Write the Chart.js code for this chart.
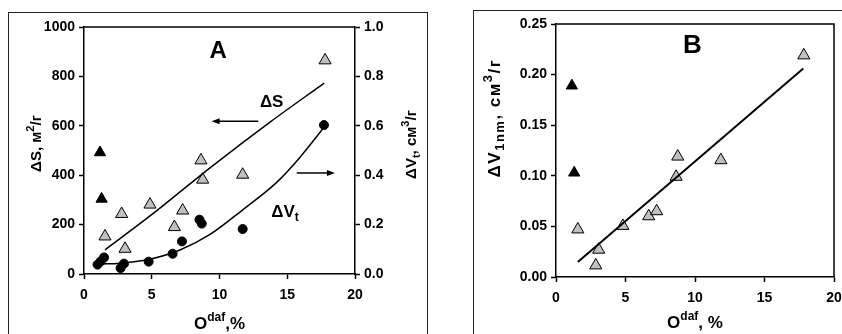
<!DOCTYPE html>
<html>
<head>
<meta charset="utf-8">
<script src="https://cdn.jsdelivr.net/npm/chart.js@4/dist/chart.umd.min.js"></script>
<style>
body{margin:0;width:842px;height:334px;overflow:hidden;background:#fff;position:relative}
.frame{position:absolute;border:1px solid #222}
.box{position:absolute;top:0;width:421px;height:334px}
</style>
</head>
<body>
<div class="frame" style="left:8px;top:12px;width:418px;height:340px"></div>
<div class="frame" style="left:473px;top:10px;width:380px;height:340px"></div>
<div class="box" style="left:0"><canvas id="chartA"></canvas></div>
<div class="box" style="left:421px"><canvas id="chartB"></canvas></div>
<script>
// ---- panel A : dS (left axis) and dVt (right axis) vs O daf ----
var oxyS = [1.55, 2.78, 3.03, 4.87, 6.67, 7.28, 8.63, 8.76, 11.71, 17.79];
var dS = [152, 243, 102, 281, 190, 257, 460, 382, 402, 865];
var oxySblack = [1.18, 1.30];
var dSblack = [492, 304];
var oxyV = [1.0, 1.23, 1.48, 2.70, 2.95, 4.77, 6.54, 7.23, 8.52, 8.69, 11.71, 17.71];
var dVt = [0.038, 0.051, 0.067, 0.024, 0.042, 0.050, 0.082, 0.132, 0.220, 0.204, 0.182, 0.603];
// trend lines
var fitSx = [1.55, 4.87, 9.3, 13.73, 17.73];
var fitSy = [98, 235, 430, 615, 773];
var fitVx = [1.18, 2.66, 4.87, 7.08, 9.3, 11.76, 14.2, 15.9, 17.66];
var fitVy = [0.040, 0.044, 0.060, 0.097, 0.160, 0.262, 0.370, 0.470, 0.590];

// ---- panel B : dV1nm vs O daf ----
var oxyB = [1.57, 2.86, 3.07, 4.81, 6.67, 7.24, 8.64, 8.76, 11.86, 17.83];
var dV1 = [0.047, 0.0115, 0.027, 0.0505, 0.060, 0.065, 0.099, 0.119, 0.1154, 0.219];
var oxyBblack = [1.14, 1.31];
var dV1black = [0.189, 0.103];
var fitBx = [1.57, 17.79];
var fitBy = [0.0148, 0.206];

var xTicks = [0, 5, 10, 15, 20];

function pts(xs, ys) { return xs.map(function (x, i) { return {x: x, y: ys[i]}; }); }

var FONT = 'Arial, "Liberation Sans", sans-serif';
Chart.defaults.font.family = FONT;
Chart.defaults.font.weight = 'bold';
Chart.defaults.font.size = 14;
Chart.defaults.color = '#000';

// text with super/subscripts: parts = [[text, 0|1|-1], ...]
function rich(ctx, parts, x, y, size, rot, center, spacing, subRatio) {
  var small = Math.round(size * (subRatio || 0.7));
  ctx.save();
  ctx.translate(x, y);
  ctx.rotate(rot || 0);
  ctx.fillStyle = '#000';
  ctx.textBaseline = 'alphabetic';
  ctx.textAlign = 'left';
  if ('letterSpacing' in ctx) { ctx.letterSpacing = (spacing || 0) + 'px'; }
  var w = 0;
  parts.forEach(function (p) {
    ctx.font = 'bold ' + (p[1] ? small : size) + 'px ' + FONT;
    w += ctx.measureText(p[0]).width;
  });
  var cx = center ? -w / 2 : 0;
  parts.forEach(function (p) {
    ctx.font = 'bold ' + (p[1] ? small : size) + 'px ' + FONT;
    var dy = p[1] === 1 ? -size * 0.45 : (p[1] === -1 ? size * 0.25 : 0);
    ctx.fillText(p[0], cx, dy);
    cx += ctx.measureText(p[0]).width;
  });
  ctx.restore();
}

function arrow(ctx, x1, y, x2) {
  var dir = x2 > x1 ? 1 : -1;
  ctx.save();
  ctx.strokeStyle = '#000';
  ctx.fillStyle = '#000';
  ctx.lineWidth = 1.5;
  ctx.beginPath();
  ctx.moveTo(x1, y);
  ctx.lineTo(x2 - dir * 6, y);
  ctx.stroke();
  ctx.beginPath();
  ctx.moveTo(x2, y);
  ctx.lineTo(x2 - dir * 8, y - 3);
  ctx.lineTo(x2 - dir * 8, y + 3);
  ctx.closePath();
  ctx.fill();
  ctx.restore();
}

function boxLines(ctx, ca, right) {
  ctx.save();
  ctx.strokeStyle = '#000';
  ctx.lineWidth = 1.5;
  ctx.beginPath();
  ctx.moveTo(ca.left, ca.top);
  ctx.lineTo(ca.right, ca.top);
  if (right) { ctx.lineTo(ca.right, ca.bottom); }
  ctx.stroke();
  ctx.restore();
}

function fitW(w) { return function (s) { s.width = w; s.paddingTop = 0; s.paddingBottom = 0; }; }
function fitH(h) { return function (s) { s.height = h; s.paddingLeft = 0; s.paddingRight = 0; }; }

function axisX(h) {
  return {
    type: 'linear', min: 0, max: 20,
    afterFit: fitH(h),
    afterBuildTicks: function (s) { s.ticks = xTicks.map(function (v) { return {value: v}; }); },
    border: {display: true, color: '#000', width: 1.5},
    grid: {drawOnChartArea: false, drawTicks: true, tickLength: 5, color: '#000', tickWidth: 1.5},
    ticks: {padding: 8, maxRotation: 0, font: {size: 14, weight: 'bold'}}
  };
}

function axisY(min, max, step, dec, w, pos) {
  return {
    type: 'linear', min: min, max: max, position: pos,
    afterFit: fitW(w),
    border: {display: true, color: '#000', width: 1.5},
    grid: {drawOnChartArea: false, drawTicks: true, tickLength: 5, color: '#000', tickWidth: 1.5},
    ticks: {stepSize: step, padding: 4, font: {size: 14, weight: 'bold'},
      callback: function (v) { return v.toFixed(dec); }}
  };
}

var grey = '#c0c0c0';

new Chart(document.getElementById('chartA'), {
  type: 'scatter',
  data: {
    datasets: [
      {data: pts(fitSx, fitSy), showLine: true, pointRadius: 0, borderColor: '#000', borderWidth: 1.5, cubicInterpolationMode: 'monotone', yAxisID: 'y'},
      {data: pts(fitVx, fitVy), showLine: true, pointRadius: 0, borderColor: '#000', borderWidth: 1.5, cubicInterpolationMode: 'monotone', yAxisID: 'y2'},
      {data: pts(oxyS, dS), pointStyle: 'triangle', pointRadius: 7, backgroundColor: grey, borderColor: '#000', borderWidth: 1, yAxisID: 'y'},
      {data: pts(oxySblack, dSblack), pointStyle: 'triangle', pointRadius: 6.5, backgroundColor: '#000', borderColor: '#000', borderWidth: 1, yAxisID: 'y'},
      {data: pts(oxyV, dVt), pointStyle: 'circle', pointRadius: 4.5, backgroundColor: '#000', borderColor: '#000', borderWidth: 1, yAxisID: 'y2'}
    ]
  },
  options: {
    responsive: true, maintainAspectRatio: false, animation: false,
    layout: {padding: {top: 27, left: 0, right: 0, bottom: 0}},
    plugins: {legend: {display: false}, tooltip: {enabled: false}},
    scales: {
      x: axisX(60),
      y: axisY(0, 1000, 200, 0, 84, 'left'),
      y2: axisY(0, 1, 0.2, 1, 66, 'right')
    }
  },
  plugins: [{
    id: 'decorA',
    afterDraw: function (chart) {
      var ctx = chart.ctx, ca = chart.chartArea, sx = chart.scales.x, sy = chart.scales.y;
      boxLines(ctx, ca, false);
      var my = (ca.top + ca.bottom) / 2;
      rich(ctx, [['ΔS, м', 0], ['2', 1], ['/г', 0]], ca.left - 43, my - 7, 15, -Math.PI / 2, true);
      rich(ctx, [['ΔV', 0], ['t', -1], [', см', 0], ['3', 1], ['/г', 0]], ca.right + 61, my - 6, 15, -Math.PI / 2, true);
      rich(ctx, [['O', 0], ['daf', 1], [',%', 0]], (ca.left + ca.right) / 2, 329, 17, 0, true);
      rich(ctx, [['A', 0]], sx.getPixelForValue(9.9), sy.getPixelForValue(874), 24, 0, true);
      rich(ctx, [['ΔS', 0]], sx.getPixelForValue(13.85), sy.getPixelForValue(678), 17, 0, true);
      rich(ctx, [['ΔV', 0], ['t', -1]], sx.getPixelForValue(14.83), sy.getPixelForValue(232), 17, 0, true);
      arrow(ctx, sx.getPixelForValue(12.86), sy.getPixelForValue(618), sx.getPixelForValue(9.42));
      arrow(ctx, sx.getPixelForValue(15.7), sy.getPixelForValue(409), sx.getPixelForValue(18.52));
    }
  }]
});

new Chart(document.getElementById('chartB'), {
  type: 'scatter',
  data: {
    datasets: [
      {data: pts(fitBx, fitBy), showLine: true, pointRadius: 0, borderColor: '#000', borderWidth: 2},
      {data: pts(oxyB, dV1), pointStyle: 'triangle', pointRadius: 7, backgroundColor: grey, borderColor: '#000', borderWidth: 1},
      {data: pts(oxyBblack, dV1black), pointStyle: 'triangle', pointRadius: 6.5, backgroundColor: '#000', borderColor: '#000', borderWidth: 1}
    ]
  },
  options: {
    responsive: true, maintainAspectRatio: false, animation: false,
    layout: {padding: {top: 24, left: 0, right: 6, bottom: 0}},
    plugins: {legend: {display: false}, tooltip: {enabled: false}},
    scales: {
      x: axisX(57),
      y: axisY(0, 0.25, 0.05, 2, 135, 'left')
    }
  },
  plugins: [{
    id: 'decorB',
    afterDraw: function (chart) {
      var ctx = chart.ctx, ca = chart.chartArea, sx = chart.scales.x, sy = chart.scales.y;
      boxLines(ctx, ca, true);
      rich(ctx, [['ΔV', 0], ['1nm', -1], [', см', 0], ['3', 1], ['/г', 0]], ca.left - 56, 118, 17, -Math.PI / 2, true, 1.5, 0.75);
      rich(ctx, [['O', 0], ['daf', 1], [', %', 0]], (ca.left + ca.right) / 2, 328, 17, 0, true);
      rich(ctx, [['B', 0]], sx.getPixelForValue(9.82), sy.getPixelForValue(0.221), 26, 0, true);
    }
  }]
});
</script>
</body>
</html>
